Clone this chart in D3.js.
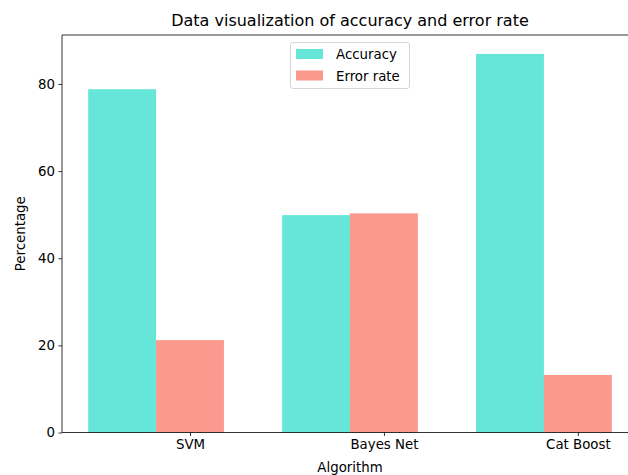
<!DOCTYPE html>
<html>
<head>
<meta charset="utf-8">
<script src="https://cdn.jsdelivr.net/npm/d3@7"></script>
<style>
  body { margin: 0; background: #fff; }
  svg { display: block; font-family: "DejaVu Sans", sans-serif; }
</style>
</head>
<body>
<svg id="chart" width="628" height="475"></svg>
<script>
const categories = ["SVM", "Bayes Net", "Cat Boost"];
const accuracy = [78.8, 49.9, 86.9];
const errorRate = [21.2, 50.3, 13.2];
const yTicks = [0, 20, 40, 60, 80];
const seriesNames = ["Accuracy", "Error rate"];
const seriesColors = ["#40E0D0", "#FA8072"];

(function () {
const barW = 0.35;
const svg = d3.select("#chart");
const mLeft = 62, mRight = 638, mTop = 35, mBottom = 432.5;

const x = d3.scaleLinear().domain([-0.31, 2.66]).range([mLeft, mRight]);
const yMax = d3.max([...accuracy, ...errorRate]) * 1.05;
const y = d3.scaleLinear().domain([0, yMax]).range([mBottom, mTop]);

const g = svg.append("g");
const series = [accuracy, errorRate];
series.forEach((vals, s) => {
  g.selectAll(".bar" + s).data(vals).enter().append("rect")
    .attr("x", (d, i) => x(i + s * barW - barW / 2))
    .attr("width", (d, i) => x(i + s * barW + barW / 2) - x(i + s * barW - barW / 2))
    .attr("y", d => y(d))
    .attr("height", d => y(0) - y(d))
    .attr("fill", seriesColors[s])
    .attr("fill-opacity", 0.8);
});

const yAxis = d3.axisLeft(y).tickValues(yTicks).tickSize(3.5).tickPadding(3.5).tickFormat(d3.format("d"));
const ya = svg.append("g").attr("transform", `translate(${mLeft},0)`).call(yAxis);
const xAxis = d3.axisBottom(x).tickValues(categories.map((c, i) => i + barW)).tickSize(3.5).tickPadding(3.5)
  .tickFormat((d, i) => categories[i]);
const xa = svg.append("g").attr("transform", `translate(0,${mBottom})`).call(xAxis);
[ya, xa].forEach(a => {
  a.select(".domain").remove();
  a.selectAll("text").attr("font-size", "13.33px").attr("fill", "#000").attr("font-family", "DejaVu Sans");
  a.selectAll("line").attr("stroke", "#000").attr("stroke-width", 0.8);
});

const sp = svg.append("g").attr("stroke", "#000").attr("stroke-width", 0.8).attr("fill", "none");
sp.append("line").attr("x1", mLeft).attr("x2", mLeft).attr("y1", mTop).attr("y2", mBottom);
sp.append("line").attr("x1", mLeft).attr("x2", mRight).attr("y1", mBottom).attr("y2", mBottom);
sp.append("line").attr("x1", mLeft).attr("x2", mRight).attr("y1", mTop).attr("y2", mTop);
sp.append("line").attr("x1", mRight).attr("x2", mRight).attr("y1", mTop).attr("y2", mBottom);

svg.append("text").attr("x", (mLeft + mRight) / 2).attr("y", 26).attr("text-anchor", "middle")
  .attr("font-size", "16px").text("Data visualization of accuracy and error rate");
svg.append("text").attr("x", (mLeft + mRight) / 2).attr("y", 472).attr("text-anchor", "middle")
  .attr("font-size", "13.33px").text("Algorithm");
svg.append("text").attr("transform", `translate(25,${(mTop + mBottom) / 2}) rotate(-90)`).attr("text-anchor", "middle")
  .attr("font-size", "13.33px").text("Percentage");

const lg = svg.append("g");
lg.append("rect").attr("x", 290.5).attr("y", 42.5).attr("width", 119).attr("height", 46).attr("rx", 2.5)
  .attr("fill", "#fff").attr("fill-opacity", 0.8).attr("stroke", "#ccc").attr("stroke-width", 0.8);
seriesNames.forEach((n, i) => {
  lg.append("rect").attr("x", 296).attr("y", 49 + i * 21.5).attr("width", 27).attr("height", 10)
    .attr("fill", seriesColors[i]).attr("fill-opacity", 0.8);
  lg.append("text").attr("x", 336).attr("y", 59 + i * 21.5).attr("font-size", "13.33px").text(n);
});
})();
</script>
</body>
</html>
